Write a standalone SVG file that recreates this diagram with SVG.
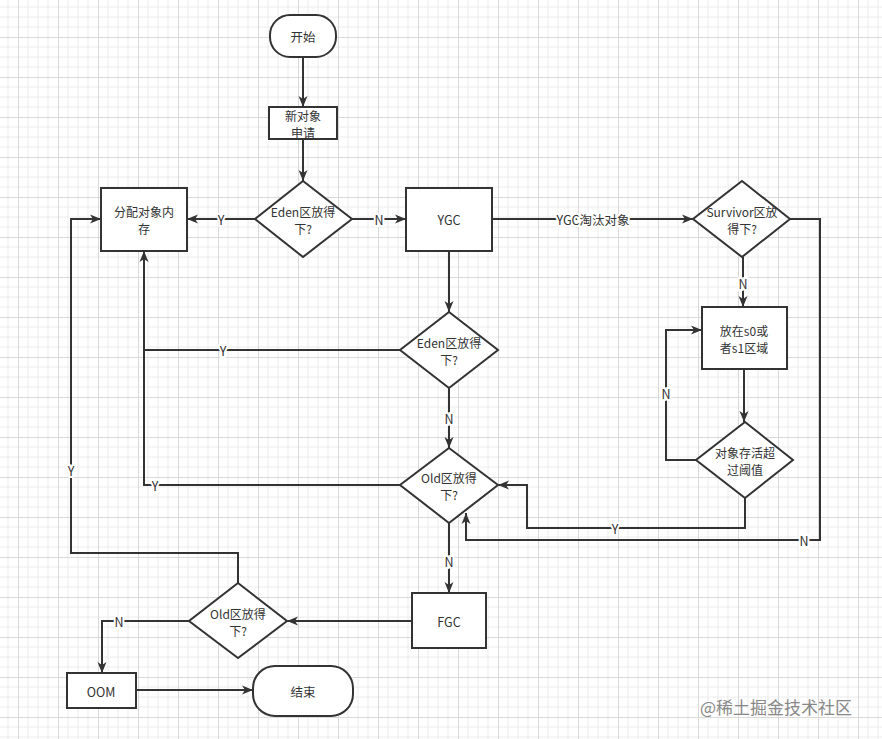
<svg xmlns="http://www.w3.org/2000/svg" width="882" height="739" viewBox="0 0 882 739">
<defs>
<pattern id="grid" patternUnits="userSpaceOnUse" x="18" y="37" width="40" height="40">
<path d="M10,0V40M20,0V40M30,0V40M0,10H40M0,20H40M0,30H40" stroke="#ececec" stroke-width="1" fill="none"/>
<path d="M0.5,0V40M0,0.5H40" stroke="#d9d9d9" stroke-width="1" fill="none"/>
</pattern>
<marker id="arr" markerUnits="userSpaceOnUse" markerWidth="12" markerHeight="10" refX="11" refY="5" orient="auto">
<path d="M0,0.5 L11,5 L0,9.5 L3,5 z" fill="#333"/>
</marker>
</defs>
<style>
.shape{fill:#fff;stroke:#333;stroke-width:2}
.edge{fill:none;stroke:#333;stroke-width:2}
.arrow{marker-end:url(#arr)}
text{font-family:"Noto Sans CJK SC","Microsoft YaHei",sans-serif;font-size:12.5px;fill:#333;text-anchor:middle;dominant-baseline:central}
.ml{font-size:12px}
.lbl{paint-order:stroke;stroke:#fff;stroke-width:4px}
.wm{font-size:17px;fill:#888;text-anchor:start}
</style>
<rect width="882" height="739" fill="#fff"/>
<rect width="882" height="739" fill="url(#grid)"/>

<g id="connectors">
<path class="edge arrow" d="M303,57V107"/>
<path class="edge arrow" d="M303,139V181"/>
<path class="edge arrow" d="M255,219H187"/>
<text class="lbl" x="221" y="219">Y</text>
<path class="edge arrow" d="M352,219H406"/>
<text class="lbl" x="379" y="219">N</text>
<path class="edge arrow" d="M492,219H693"/>
<text class="lbl" x="593" y="219">YGC淘汰对象</text>
<path class="edge arrow" d="M449,251V312"/>
<path class="edge arrow" d="M400,350H144V251"/>
<text class="lbl" x="223" y="350">Y</text>
<path class="edge arrow" d="M449,388V448"/>
<text class="lbl" x="449" y="418">N</text>
<path class="edge" d="M400,485H144V350"/>
<text class="lbl" x="155" y="485">Y</text>
<path class="edge arrow" d="M449,523V593"/>
<text class="lbl" x="449" y="561">N</text>
<path class="edge arrow" d="M412,621H287"/>
<path class="edge arrow" d="M238,583V553H71V219H101"/>
<text class="lbl" x="71" y="470">Y</text>
<path class="edge arrow" d="M189,621H102V673"/>
<text class="lbl" x="119" y="621">N</text>
<path class="edge arrow" d="M136,690H253"/>
<path class="edge arrow" d="M743,257V307"/>
<text class="lbl" x="743" y="283">N</text>
<path class="edge arrow" d="M744,369V422"/>
<path class="edge arrow" d="M696,460H666V330H702"/>
<text class="lbl" x="666" y="393">N</text>
<path class="edge arrow" d="M745,498V528H527V485H498"/>
<text class="lbl" x="615" y="528">Y</text>
<path class="edge arrow" d="M790,219H820V540H466V513"/>
<text class="lbl" x="804" y="540">N</text>
</g>

<g id="start">
<rect class="shape" x="270" y="15" width="66" height="42" rx="20" ry="20"/>
<text x="303" y="36">开始</text>
</g>
<g id="new-object">
<rect class="shape" x="269" y="107" width="68" height="32"/>
<text class="ml" x="303" y="114.5"><tspan x="303" y="114.5">新对象</tspan><tspan x="303" y="132">申请</tspan></text>
</g>
<g id="eden-fit-1">
<polygon class="shape" points="303,181 352,219 303,257 255,219"/>
<text class="ml" x="303" y="210.5"><tspan x="303" y="210.5">Eden区放得</tspan><tspan x="303" y="228">下?</tspan></text>
</g>
<g id="allocate">
<rect class="shape" x="101" y="188" width="86" height="63"/>
<text class="ml" x="144" y="210.5"><tspan x="144" y="210.5">分配对象内</tspan><tspan x="144" y="228">存</tspan></text>
</g>
<g id="ygc">
<rect class="shape" x="406" y="188" width="86" height="63"/>
<text x="449" y="219">YGC</text>
</g>
<g id="survivor-fit">
<polygon class="shape" points="742,181 790,219 742,257 693,219"/>
<text class="ml" x="742" y="210.5"><tspan x="742" y="210.5">Survivor区放</tspan><tspan x="742" y="228">得下?</tspan></text>
</g>
<g id="s0-s1">
<rect class="shape" x="702" y="307" width="85" height="62"/>
<text class="ml" x="744" y="329.5"><tspan x="744" y="329.5">放在s0或</tspan><tspan x="744" y="347">者s1区域</tspan></text>
</g>
<g id="age-threshold">
<polygon class="shape" points="745,422 793,460 745,498 696,460"/>
<text class="ml" x="745" y="451.5"><tspan x="745" y="451.5">对象存活超</tspan><tspan x="745" y="469">过阈值</tspan></text>
</g>
<g id="eden-fit-2">
<polygon class="shape" points="449,312 498,350 449,388 400,350"/>
<text class="ml" x="449" y="341.5"><tspan x="449" y="341.5">Eden区放得</tspan><tspan x="449" y="359">下?</tspan></text>
</g>
<g id="old-fit-1">
<polygon class="shape" points="449,448 498,485 449,523 400,485"/>
<text class="ml" x="449" y="476.5"><tspan x="449" y="476.5">Old区放得</tspan><tspan x="449" y="494">下?</tspan></text>
</g>
<g id="fgc">
<rect class="shape" x="412" y="593" width="74" height="55"/>
<text x="449" y="621">FGC</text>
</g>
<g id="old-fit-2">
<polygon class="shape" points="238,583 287,621 238,658 189,621"/>
<text class="ml" x="238" y="612.5"><tspan x="238" y="612.5">Old区放得</tspan><tspan x="238" y="630">下?</tspan></text>
</g>
<g id="oom">
<rect class="shape" x="67" y="673" width="69" height="35"/>
<text x="101" y="691">OOM</text>
</g>
<g id="end">
<rect class="shape" x="253" y="666" width="100" height="50" rx="22" ry="22"/>
<text x="303" y="691">结束</text>
</g>
<text class="wm" x="700" y="706">@稀土掘金技术社区</text>
</svg>
